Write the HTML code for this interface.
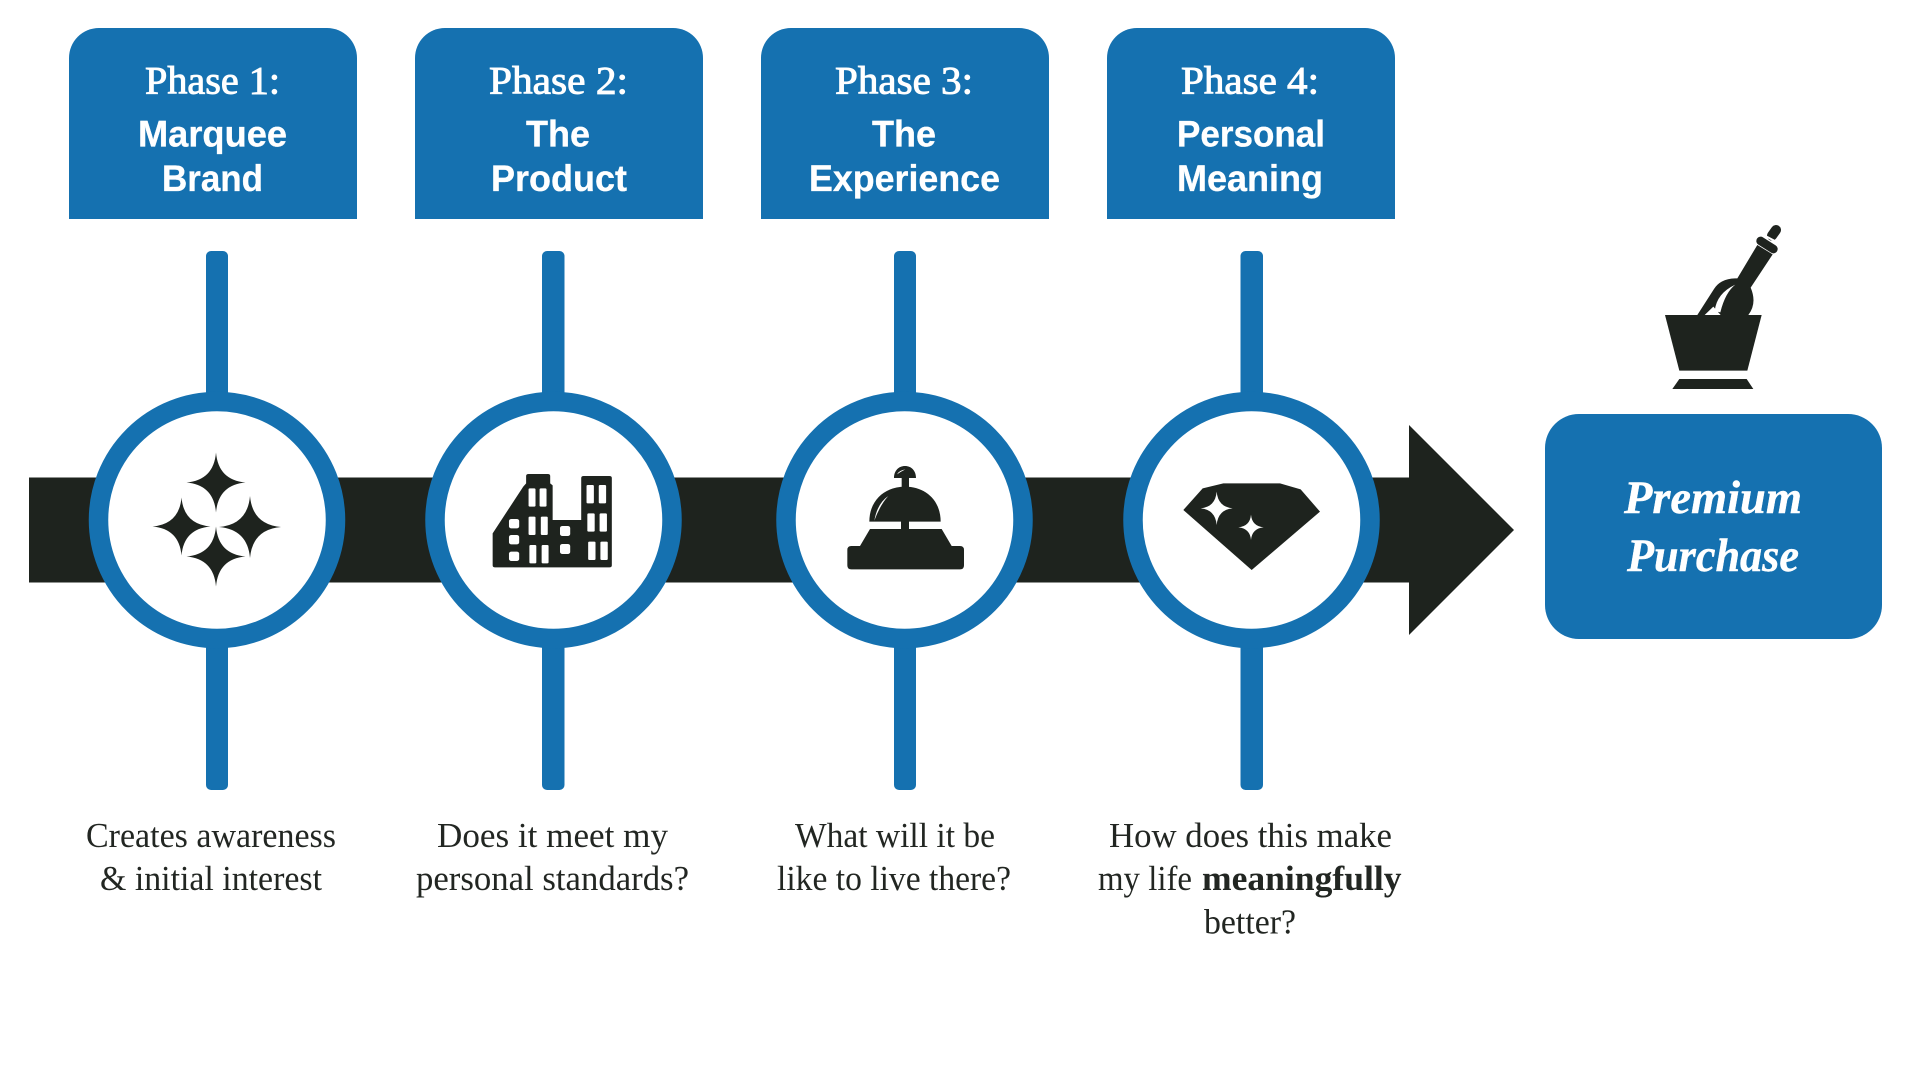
<!DOCTYPE html>
<html><head><meta charset="utf-8"><title>Phases to Premium Purchase</title>
<style>
html,body{margin:0;padding:0;background:#fff;width:1920px;height:1080px;overflow:hidden}
svg{display:block}
.ph{font-family:"Liberation Serif",serif;font-size:39px;fill:#fff;stroke:#fff;stroke-width:.9}
.hd{font-family:"Liberation Sans",sans-serif;font-weight:700;font-size:37px;fill:#fff;stroke:#fff;stroke-width:.3}
.ds{font-family:"Liberation Serif",serif;font-size:35px;fill:#222622}
.pp{font-family:"Liberation Serif",serif;font-weight:700;font-style:italic;font-size:47px;fill:#fff;stroke:#fff;stroke-width:.4}
</style></head><body>
<svg width="1920" height="1080" viewBox="0 0 1920 1080" xmlns="http://www.w3.org/2000/svg">
<defs><path id="s" d="M0-1Q.08-.08 1 0Q.08 .08 0 1Q-.08 .08-1 0Q-.08-.08 0-1Z"/></defs>
<rect width="1920" height="1080" fill="#fff"/>

<!-- header tabs -->
<g fill="#1571b0">
<path d="M69 219V58a30 30 0 0 1 30-30H327a30 30 0 0 1 30 30V219Z"/>
<path d="M415 219V58a30 30 0 0 1 30-30H673a30 30 0 0 1 30 30V219Z"/>
<path d="M761 219V58a30 30 0 0 1 30-30H1019a30 30 0 0 1 30 30V219Z"/>
<path d="M1107 219V58a30 30 0 0 1 30-30H1365a30 30 0 0 1 30 30V219Z"/>
</g>
<text class="ph" x="145" y="93.500" textLength="135" lengthAdjust="spacingAndGlyphs">Phase 1:</text>
<text class="hd" x="138" y="146.500" textLength="149" lengthAdjust="spacingAndGlyphs">Marquee</text>
<text class="hd" x="162" y="191" textLength="101" lengthAdjust="spacingAndGlyphs">Brand</text>
<text class="ph" x="489" y="93.500" textLength="139" lengthAdjust="spacingAndGlyphs">Phase 2:</text>
<text class="hd" x="526" y="146.500" textLength="64" lengthAdjust="spacingAndGlyphs">The</text>
<text class="hd" x="491" y="191" textLength="136" lengthAdjust="spacingAndGlyphs">Product</text>
<text class="ph" x="835" y="93.500" textLength="138" lengthAdjust="spacingAndGlyphs">Phase 3:</text>
<text class="hd" x="872" y="146.500" textLength="64" lengthAdjust="spacingAndGlyphs">The</text>
<text class="hd" x="809" y="191" textLength="191" lengthAdjust="spacingAndGlyphs">Experience</text>
<text class="ph" x="1181" y="93.500" textLength="138" lengthAdjust="spacingAndGlyphs">Phase 4:</text>
<text class="hd" x="1177" y="146.500" textLength="148" lengthAdjust="spacingAndGlyphs">Personal</text>
<text class="hd" x="1177" y="191" textLength="146" lengthAdjust="spacingAndGlyphs">Meaning</text>

<!-- arrow -->
<path fill="#1e231e" d="M29 477.500H1409V425L1514 530L1409 635V582.500H29Z"/>

<!-- stems -->
<g fill="#1571b0">
<rect x="206" y="251" width="22" height="539" rx="5"/>
<rect x="542" y="251" width="22.500" height="539" rx="5"/>
<rect x="894" y="251" width="22" height="539" rx="5"/>
<rect x="1240.500" y="251" width="22.500" height="539" rx="5"/>
</g>

<!-- circles -->
<g fill="#fff" stroke="#1571b0" stroke-width="19.500">
<circle cx="217" cy="520" r="118.500"/>
<circle cx="553.500" cy="520" r="118.500"/>
<circle cx="904.500" cy="520" r="118.500"/>
<circle cx="1251.500" cy="520" r="118.500"/>
</g>

<!-- sparkles -->
<g fill="#1e231e">
<use href="#s" transform="translate(216 482.500) scale(29.500 30)"/>
<use href="#s" transform="translate(181.500 526.500) scale(29 29)"/>
<use href="#s" transform="translate(250 527) scale(31 31)"/>
<use href="#s" transform="translate(216 556.500) scale(29.500 30)"/>
</g>

<!-- building -->
<g transform="translate(60 380) scale(.40816 .33333)">
<path fill="#1e231e" d="M1060 460L1135 320L1142 310V288Q1142 282 1148 282H1195Q1201 282 1201 288V310L1207 316V420H1277V294Q1277 288 1283 288H1346Q1352 288 1352 294V556Q1352 562 1346 562H1066Q1060 562 1060 556Z"/>
<g fill="#fff">
<rect x="1148" y="325" width="17" height="55" rx="3"/><rect x="1175" y="325" width="17" height="55" rx="3"/>
<rect x="1148" y="410" width="17" height="55" rx="3"/><rect x="1178" y="410" width="17" height="55" rx="3"/>
<rect x="1150" y="495" width="17" height="55" rx="3"/><rect x="1180" y="495" width="17" height="55" rx="3"/>
<rect x="1100" y="417" width="25" height="28" rx="6"/><rect x="1100" y="465" width="25" height="28" rx="6"/><rect x="1100" y="515" width="25" height="28" rx="6"/>
<rect x="1225" y="438" width="25" height="30" rx="6"/><rect x="1225" y="492" width="25" height="30" rx="6"/>
<rect x="1290" y="315" width="18" height="55" rx="3"/><rect x="1320" y="315" width="18" height="55" rx="3"/>
<rect x="1292" y="400" width="18" height="55" rx="3"/><rect x="1322" y="400" width="18" height="55" rx="3"/>
<rect x="1294" y="485" width="18" height="55" rx="3"/><rect x="1324" y="485" width="18" height="55" rx="3"/>
</g>
</g>

<!-- bell -->
<g transform="translate(840 460) scale(.33333)">
<path fill="#1e231e" d="M162 54C162 32 176 18 195 18C214 18 228 32 228 54ZM185 50H207V85H185Z"/>
<path fill="#1e231e" d="M88 185C88 120 135 80 195 80C255 80 302 120 302 185Z"/>
<path fill="#1e231e" d="M183 183H207V209H183Z"/>
<path fill="#1e231e" d="M90 207H305L335 258H360Q372 258 372 270V316Q372 328 360 328H34Q22 328 22 316V270Q22 258 34 258H60Z"/>
<path fill="#fff" d="M145 108Q112 130 103 182Q120 135 145 108ZM196 28Q177 31 171 43Q182 35 196 28Z"/>
</g>

<!-- diamond -->
<g transform="translate(1180 470) scale(.33333)">
<path fill="#1e231e" d="M10 120L68 55L130 40H300L362 58L420 125L215 300Z"/>
<g fill="#fff">
<use href="#s" transform="translate(110 115) scale(48 50)"/>
<use href="#s" transform="translate(213 172) scale(38 38)"/>
</g>
</g>

<!-- mortar and pestle -->
<g transform="translate(1660 215) scale(.33333)">
<g fill="#1e231e">
<path d="M112 300L162 222Q180 192 225 190H232L292 90L338 118L272 218Q292 265 265 300Z"/>
</g>
<path d="M336 62L348 45" stroke="#1e231e" stroke-width="30" stroke-linecap="round" fill="none"/>
<path d="M316 63L354 83" stroke="#fff" stroke-width="6" fill="none"/>
<path d="M302 78L340 102" stroke="#1e231e" stroke-width="26" stroke-linecap="round" fill="none"/>
<path fill="#fff" d="M164 288Q170 235 226 209Q196 232 181 292ZM134 300L160 275L182 300Z"/>
</g>
<g transform="translate(1400 200) scale(.33333)" fill="#1e231e">
<path d="M795 345H1085L1042 512H838Z"/>
<path d="M838 537H1040L1060 567H817Z"/>
</g>

<!-- purchase box -->
<rect x="1545" y="414" width="337" height="225" rx="34" fill="#1571b0"/>
<text class="pp" x="1624" y="513" textLength="178" lengthAdjust="spacingAndGlyphs">Premium</text>
<text class="pp" x="1627" y="571" textLength="172" lengthAdjust="spacingAndGlyphs">Purchase</text>

<!-- descriptions -->
<text class="ds" x="86" y="847" textLength="250" lengthAdjust="spacingAndGlyphs">Creates awareness</text>
<text class="ds" x="100" y="890" textLength="222" lengthAdjust="spacingAndGlyphs">&amp; initial interest</text>
<text class="ds" x="437" y="847" textLength="231" lengthAdjust="spacingAndGlyphs">Does it meet my</text>
<text class="ds" x="416" y="890" textLength="273" lengthAdjust="spacingAndGlyphs">personal standards?</text>
<text class="ds" x="795" y="847" textLength="200" lengthAdjust="spacingAndGlyphs">What will it be</text>
<text class="ds" x="777" y="890" textLength="234" lengthAdjust="spacingAndGlyphs">like to live there?</text>
<text class="ds" x="1109" y="847" textLength="283" lengthAdjust="spacingAndGlyphs">How does this make</text>
<text class="ds" x="1098" y="890" textLength="94" lengthAdjust="spacingAndGlyphs">my life</text>
<text class="ds" x="1202" y="890" textLength="199.500" lengthAdjust="spacingAndGlyphs" font-weight="700">meaningfully</text>
<text class="ds" x="1204" y="933.500" textLength="92" lengthAdjust="spacingAndGlyphs">better?</text>
</svg>
</body></html>
